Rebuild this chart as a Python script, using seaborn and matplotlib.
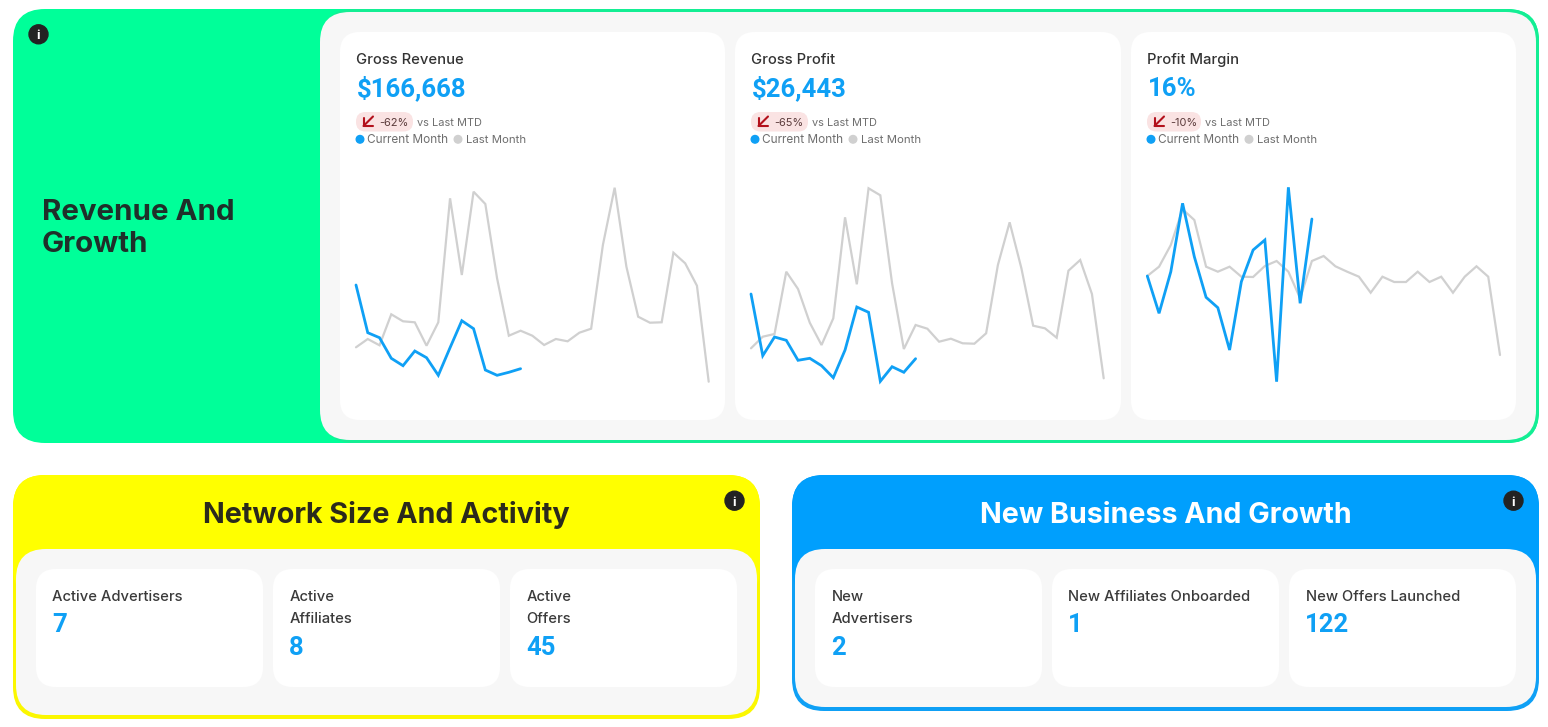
import pandas as pd
import matplotlib
matplotlib.use('Agg')
import matplotlib.pyplot as plt
import seaborn as sns
from matplotlib.patches import FancyBboxPatch, Circle

sns.set_theme(style='white')
plt.rcParams['font.family'] = ['Inter', 'DejaVu Sans']

BLUE = '#0fa0f5'
GREY = '#d0d0d0'
DARK = '#2b2b2b'
MID = '#6e6e6e'
PANEL = '#f7f7f7'

# Daily series (relative units, only the shape is known)
revenue_last = [52.7, 61, 54.7, 85.7, 78.7, 77.7, 54.3, 77.7, 201.7, 125, 208.3, 196, 121.7, 64.3, 69.3, 64.3,
                55, 61, 58.7, 67.3, 71.3, 155, 212.3, 133.3, 83.3, 77.3, 77.7, 147.3, 136.7, 114.3, 18.3]
revenue_current = [115, 67.3, 62.3, 41.7, 34.3, 49, 42.3, 24.7, 52.3, 79.3, 71.3, 30, 24.7, 27.7, 31.3]
profit_last = [51.7, 63.3, 66, 128.3, 111, 77.3, 55, 81.7, 182.7, 115.7, 211.7, 204.7, 116.7, 51, 75, 71.3,
               58.3, 61.3, 56.7, 56.3, 66.7, 135, 177.7, 131.7, 74.3, 71.7, 62.3, 129.3, 140, 106, 21.7]
profit_current = [106, 44.3, 63, 59.7, 39.7, 41.7, 34.3, 22.3, 50, 93, 87.7, 18.7, 33.3, 27.7, 41.3]
margin_last = [124, 133.3, 155, 190.7, 180, 133.3, 128.3, 133.3, 123.3, 123, 134, 139, 128.3, 101.7, 139, 144,
               133.7, 128.3, 123.3, 107.3, 123.3, 118, 118, 128.3, 118, 123.3, 107.3, 123.3, 133.7, 123.3, 45]
margin_current = [124, 86.7, 128.3, 196.7, 143.3, 102.7, 92.3, 50, 118.3, 150, 160, 18.3, 212.7, 96.7, 181]

top_titles = ['Gross Revenue', 'Gross Profit', 'Profit Margin']
top_values = ['$166,668', '$26,443', '16%']
top_changes = ['-62%', '-65%', '-10%']
network_titles = [['Active Advertisers'], ['Active', 'Affiliates'], ['Active', 'Offers']]
network_values = ['7', '8', '45']
business_titles = [['New', 'Advertisers'], ['New Affiliates Onboarded'], ['New Offers Launched']]
business_values = ['2', '1', '122']

W, H = 1548, 727
fig = plt.figure(figsize=(W / 100, H / 100), dpi=100, facecolor='white')
bg = fig.add_axes([0, 0, 1, 1])
bg.set_xlim(0, W)
bg.set_ylim(H, 0)
bg.axis('off')


def box(x0, y0, x1, y1, r, color, z=1):
    bg.add_patch(FancyBboxPatch((x0, y0), x1 - x0, y1 - y0, boxstyle=f'round,pad=0,rounding_size={r}',
                                facecolor=color, edgecolor='none', linewidth=0, zorder=z))


def px_text(x, y, s, size, color=DARK, weight='normal', ha='left', family=None):
    # size is given in css pixels, y is the text baseline
    bg.text(x, y, s, fontsize=size * 0.72, color=color, fontweight=weight, ha=ha, va='baseline',
            zorder=6, family=family)


def info_icon(x, y):
    bg.add_patch(Circle((x, y), 9.5, color='#232323', zorder=5))
    px_text(x, y + 4.8, 'i', 13, color='white', weight='bold', ha='center')


def trend_chart(x0, x1, last, current):
    ax = fig.add_axes([x0 / W, 1 - 400 / H, (x1 - x0) / W, 230 / H])
    sns.lineplot(x=range(len(last)), y=last, ax=ax, color=GREY, linewidth=1.6, errorbar=None)
    sns.lineplot(x=range(len(current)), y=current, ax=ax, color=BLUE, linewidth=2.0, errorbar=None)
    ax.set_xlim(0, len(last) - 1)
    ax.set_ylim(0, 230)
    ax.axis('off')
    ax.patch.set_alpha(0)
    for line in ax.lines:
        line.set_clip_on(False)
        line.set_solid_joinstyle('miter')


# top band
box(13, 9, 1539, 443, 32, '#00ff99')
box(322, 9, 1539, 443, 32, '#14ee94', z=1.5)
box(320, 12, 1536, 440, 30, PANEL, z=2)
info_icon(38.5, 34.3)
px_text(42, 220, 'Revenue And', 29.5, color='#1f2f2a', weight='bold')
px_text(42, 252, 'Growth', 29.5, color='#1f2f2a', weight='bold')

card_lefts = [340, 735, 1131]
card_rights = [725, 1121, 1516]
pill_widths = [57, 57, 54]
series = [(revenue_last, revenue_current), (profit_last, profit_current), (margin_last, margin_current)]
chart_spans = [(356, 708.7), (751, 1103.7), (1147.3, 1500)]
for i in range(3):
    left = card_lefts[i]
    box(left, 32, card_rights[i], 420, 20, 'white', z=3)
    px_text(left + 16, 64, top_titles[i], 14.8, color='#333333', weight='medium')
    px_text(left + 16.5, 96, top_values[i], 25.7, color=BLUE, weight='bold', family='Roboto')
    box(left + 16, 112, left + 16 + pill_widths[i], 131.5, 9.5, '#fae3e3', z=4)
    bg.plot([left + 33, left + 23.5], [116.5, 126], color='#b3111c', lw=1.5, zorder=6)
    bg.plot([left + 23.5, left + 23.5, left + 32.5], [118, 126, 126], color='#b3111c', lw=1.5, zorder=6)
    px_text(left + 39, 126, top_changes[i], 11, color='#5a3a3a')
    px_text(left + 20 + pill_widths[i], 126, 'vs Last MTD', 11, color=MID)
    bg.add_patch(Circle((left + 20, 139.3), 3.8, color=BLUE, zorder=5))
    px_text(left + 27, 143.3, 'Current Month', 11.8, color=MID)
    bg.add_patch(Circle((left + 118, 139.3), 3.8, color=GREY, zorder=5))
    px_text(left + 126, 143.3, 'Last Month', 11.4, color=MID)
    trend_chart(chart_spans[i][0], chart_spans[i][1], series[i][0], series[i][1])


def lower_panel(x0, x1, bottom, color, edge, heading, heading_color, titles, values):
    box(x0, 475, x1, bottom, 32, edge)
    box(x0, 475, x1, 600, 32, color, z=1.2)
    box(x0 + 3, 549, x1 - 3, bottom - 4, 30, PANEL, z=2)
    px_text((x0 + x1) / 2, 523, heading, 28.7, color=heading_color, weight='bold', ha='center')
    info_icon(x1 - 25.5, 500.7)
    for j in range(3):
        left = x0 + 23 + 237 * j
        box(left, 569, left + 227, 687, 20, 'white', z=3)
        for k, line in enumerate(titles[j]):
            px_text(left + 16.5, 601 + 22 * k, line, 14.75, color='#3a3a3a', weight='medium')
        px_text(left + 16, 632 + 23 * (len(titles[j]) - 1), values[j], 25.7, color=BLUE, weight='bold',
                family='Roboto')


lower_panel(13, 760, 719, '#ffff00', '#fbf700', 'Network Size And Activity', '#2b2a1c', network_titles, network_values)
lower_panel(792, 1539, 711, '#009ffd', '#0fa0f5', 'New Business And Growth', 'white', business_titles, business_values)

fig.savefig('out.png', dpi=100)
